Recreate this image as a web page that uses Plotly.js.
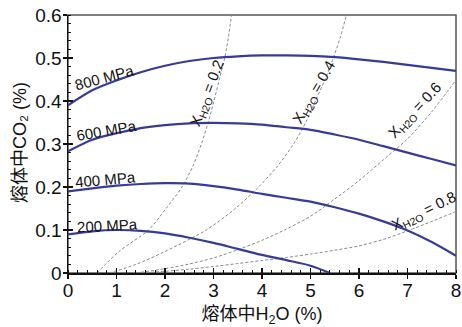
<!DOCTYPE html>
<html>
<head>
<meta charset="utf-8">
<script src="https://cdn.plot.ly/plotly-3.0.1.min.js"></script>
<style>html,body{margin:0;padding:0;background:#fff;}#chart{width:462px;height:327px;}</style>
</head>
<body>
<div id="chart"></div>
<script>
// Pressure isobars: melt H2O (%) vs melt CO2 (%)
const isoX = [0, 0.5, 1, 1.5, 2, 2.5, 3, 3.5, 4, 4.5, 5, 5.5, 6, 6.5, 7, 7.5, 8];
const p800 = [0.39, 0.425, 0.448, 0.467, 0.482, 0.493, 0.5, 0.504, 0.506, 0.506, 0.505, 0.502, 0.497, 0.491, 0.484, 0.477, 0.47];
const p600 = [0.283, 0.31, 0.325, 0.337, 0.344, 0.348, 0.349, 0.348, 0.345, 0.339, 0.333, 0.322, 0.31, 0.295, 0.28, 0.265, 0.25];
const p400 = [0.19, 0.197, 0.203, 0.207, 0.209, 0.208, 0.202, 0.194, 0.184, 0.175, 0.166, 0.153, 0.138, 0.12, 0.099, 0.072, 0.04];
const p200X = [0, 0.5, 1, 1.5, 2, 2.5, 3, 3.5, 4, 4.5, 5, 5.4];
const p200 = [0.09, 0.097, 0.1, 0.098, 0.092, 0.082, 0.07, 0.056, 0.042, 0.03, 0.017, 0];

// Fluid composition isopleths (X_H2O)
const x02X = [0.6, 1.05, 1.66, 2.02, 2.35, 2.58, 2.75, 2.89, 3.01, 3.12, 3.23, 3.31, 3.37];
const x02Y = [0, 0.05, 0.1, 0.15, 0.2, 0.25, 0.3, 0.35, 0.4, 0.45, 0.5, 0.55, 0.6];
const x04X = [0.85, 1.4, 2.0, 2.85, 3.45, 3.93, 4.33, 4.65, 4.9, 5.1, 5.3, 5.47, 5.62, 5.74];
const x04Y = [0, 0.02, 0.05, 0.1, 0.15, 0.2, 0.25, 0.3, 0.35, 0.4, 0.45, 0.5, 0.55, 0.6];
const x06X = [1.4, 2, 2.5, 3, 3.5, 4, 4.5, 5, 5.5, 6, 6.5, 7, 7.5, 8];
const x06Y = [0, 0.01, 0.021, 0.035, 0.054, 0.076, 0.102, 0.132, 0.172, 0.215, 0.263, 0.312, 0.375, 0.449];
const x08X = [1.4, 2, 2.5, 3, 3.5, 4, 4.5, 5, 5.5, 6, 6.5, 7, 7.5, 8];
const x08Y = [0, 0.004, 0.009, 0.015, 0.022, 0.029, 0.036, 0.044, 0.053, 0.063, 0.078, 0.098, 0.12, 0.143];

const xTicks = [0, 1, 2, 3, 4, 5, 6, 7, 8];
const yTicks = [0, 0.1, 0.2, 0.3, 0.4, 0.5, 0.6];

const pLabels = ['800 MPa', '600 MPa', '400 MPa', '200 MPa'];
const xLabels = ['X<sub>H2O</sub> = 0.2', 'X<sub>H2O</sub> = 0.4', 'X<sub>H2O</sub> = 0.6', 'X<sub>H2O</sub> = 0.8'];

const FONT = 'Liberation Sans, Arial, Noto Sans CJK SC, sans-serif';
const BLUE = '#363a9c';
const GRAY = '#8a8a8a';

const M = {l: 68, r: 6, t: 15, b: 54};
const PW = 462 - M.l - M.r, PH = 327 - M.t - M.b;
// label anchor positions given as data coordinates (x, y) with angle
function px2paper(x, y) { return [(x - M.l) / PW, (327 - M.b - y) / PH]; }

function iso(x, y) {
  return {x: x, y: y, mode: 'lines', type: 'scatter', hoverinfo: 'skip',
    line: {color: GRAY, width: 1, dash: '3px,2px', shape: 'spline', smoothing: 0.8}};
}
function bar(x, y) {
  return {x: x, y: y, mode: 'lines', type: 'scatter', hoverinfo: 'skip',
    line: {color: BLUE, width: 2.2, shape: 'spline', smoothing: 0.8}};
}

const traces = [
  iso(x02X, x02Y), iso(x04X, x04Y), iso(x06X, x06Y), iso(x08X, x08Y),
  bar(isoX, p800), bar(isoX, p600), bar(isoX, p400), bar(p200X, p200),
  {x: [0], y: [0], xaxis: 'x2', yaxis: 'y2', mode: 'markers', marker: {opacity: 0}, hoverinfo: 'skip'}
];

const pPos = [[104, 77, -15], [106, 130, -10], [105, 179, -5], [107, 225, -3]];
const xPos = [[207, 93, -69], [314, 92, -60], [415, 110, -47], [424, 211, -26]];
const annotations = [];
pLabels.forEach((t, i) => { const p = px2paper(pPos[i][0], pPos[i][1]); annotations.push({
  text: t, xref: 'paper', yref: 'paper', x: p[0], y: p[1],
  xanchor: 'center', yanchor: 'middle', showarrow: false, textangle: pPos[i][2],
  font: {family: FONT, size: 15, color: '#111'}
}); });
xLabels.forEach((t, i) => { const p = px2paper(xPos[i][0], xPos[i][1]); annotations.push({
  text: t, xref: 'paper', yref: 'paper', x: p[0], y: p[1],
  xanchor: 'center', yanchor: 'middle', showarrow: false, textangle: xPos[i][2],
  font: {family: FONT, size: 15, color: '#111'}
}); });
// y-axis title
const yt = px2paper(20, 143);
annotations.push({
  text: '熔体中CO₂ (%)', xref: 'paper', yref: 'paper',
  x: yt[0], y: yt[1], xanchor: 'center', yanchor: 'middle',
  showarrow: false, textangle: -90, font: {family: FONT, size: 18, color: '#111'}
});

const axisCommon = {
  showgrid: false, zeroline: false, showline: true, linecolor: '#111', linewidth: 1.5,
  ticks: 'outside', ticklen: 4, tickwidth: 1.2, tickcolor: '#111',
  tickfont: {family: FONT, size: 19, color: '#111'}
};

const layout = {
  width: 462, height: 327,
  margin: M,
  paper_bgcolor: '#fff', plot_bgcolor: '#fff',
  showlegend: false,
  xaxis: Object.assign({}, axisCommon, {
    range: [0, 8], tickvals: xTicks, ticktext: xTicks.map(String),
    ticklabeloverflow: 'allow', ticklabelstandoff: -4,
    minor: {dtick: 0.2, ticks: 'inside', ticklen: 3, tickwidth: 1, tickcolor: '#111'},
    title: {text: '熔体中H<sub>2</sub>O (%)', font: {family: FONT, size: 18, color: '#111'}, standoff: 9}
  }),
  yaxis: Object.assign({}, axisCommon, {
    range: [0, 0.6], tickvals: yTicks, ticktext: yTicks.map(v => v === 0 ? '0' : v.toFixed(1)),
    ticklabelstandoff: -3,
    minor: {dtick: 0.02, ticks: 'inside', ticklen: 3, tickwidth: 1, tickcolor: '#111'}
  }),
  xaxis2: {overlaying: 'x', anchor: 'y2', range: [0, 8], tickvals: xTicks, ticks: 'inside', ticklen: 5,
    tickwidth: 1.2, tickcolor: '#111', showticklabels: false, showgrid: false, zeroline: false, showline: false},
  yaxis2: {overlaying: 'y', anchor: 'x2', range: [0, 0.6], tickvals: yTicks, ticks: 'inside', ticklen: 5,
    tickwidth: 1.2, tickcolor: '#111', showticklabels: false, showgrid: false, zeroline: false, showline: false},
  shapes: [{type: 'rect', xref: 'paper', yref: 'paper', x0: 0, x1: 1, y0: 0, y1: 1,
    line: {color: '#555', width: 1.5}, layer: 'below'}],
  annotations: annotations
};

Plotly.newPlot('chart', traces, layout, {displayModeBar: false, staticPlot: true});
</script>
</body>
</html>
